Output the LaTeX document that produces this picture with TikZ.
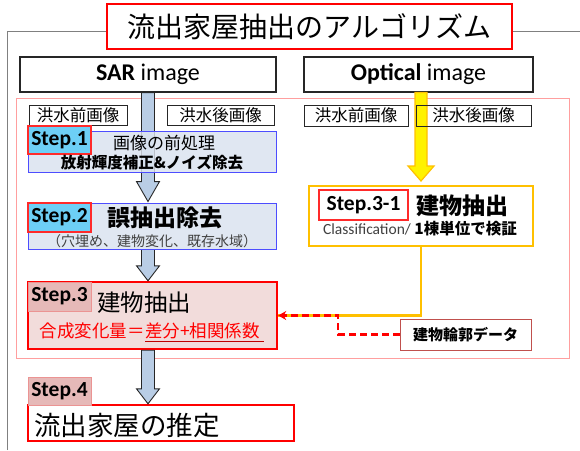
\documentclass[tikz,border=0pt]{standalone}
\usepackage{fontspec}
\setmainfont{Carlito}
\newfontfamily\jp{Noto Sans CJK JP}
\usetikzlibrary{arrows.meta,calc}
\definecolor{pinkframe}{HTML}{FF9F9F}
\definecolor{grayframe}{HTML}{808080}
\definecolor{stepblue}{HTML}{4D4DFF}
\definecolor{stepfill}{HTML}{DFE6F1}
\definecolor{labcyan}{HTML}{6DCFF6}
\definecolor{labred}{HTML}{FF2A2A}
\definecolor{s3fill}{HTML}{F2DCDB}
\definecolor{s3lab}{HTML}{E6B9B8}
\definecolor{orangeb}{HTML}{FFC000}
\definecolor{arrowblue}{HTML}{B9CDE5}
\definecolor{darkred}{HTML}{C0504D}
\definecolor{ulred}{HTML}{C00000}
\definecolor{subgray}{HTML}{404040}
\newcommand\blockarrow[6]{%
  \path[#1] let \p1=(#2), \p2=(#3) in
    (\x1-#4,\y1) -- (\x1+#4,\y1) -- (\x1+#4,\y2+#6) -- (\x1+#5,\y2+#6)
    -- (\x1,\y2) -- (\x1-#5,\y2+#6) -- (\x1-#4,\y2+#6) -- cycle;}
\begin{document}
\begin{tikzpicture}[x=1pt,y=-1pt,
  box/.style={draw, inner sep=0pt},
  blackbox/.style={box, draw=black!85, line width=1.1pt, fill=white},
  floodbox/.style={box, draw=black!85, line width=1pt},
  stepbox/.style={box, draw=stepblue, line width=0.9pt, fill=stepfill, fill opacity=0.8},
  steplab/.style={box, draw=labred, line width=1.1pt, fill=labcyan, font=\fontsize{21.5}{21.5}\selectfont\bfseries},
  redbox/.style={box, draw=red, line width=2.4pt},
  pinklab/.style={box, draw=s3lab!80!red, line width=0.6pt, fill=s3lab, font=\fontsize{21.5}{21.5}\selectfont\bfseries},
  txt/.style={inner sep=0pt},
  sararrow/.style={draw=black!85, line width=0.9pt, fill=arrowblue},
  yelarrow/.style={draw=orangeb, line width=1.2pt, fill=yellow}]
\useasboundingbox (0,0) rectangle (580,450);
% frames
\draw[pinkframe, line width=0.9pt] (16,98) rectangle (569,358);
\node[box, draw=red, line width=1.1pt, fill=white, minimum width=405pt, minimum height=45pt,
  font=\jp\fontsize{28}{28}\selectfont] (title) at (309.5,26.5) {流出家屋抽出のアルゴリズム};
\draw[grayframe, line width=0.9pt] (7,450) -- (7,31) -- (title.west |- 0,31);
\draw[grayframe, line width=0.9pt] (title.east |- 0,31) -- (580,31);
% source boxes
\node[blackbox, minimum width=256pt, minimum height=35pt, font=\fontsize{24}{24}\selectfont] (sar) at (148,74.5) {\textbf{SAR} image};
\node[blackbox, minimum width=229pt, minimum height=35pt, font=\fontsize{24}{24}\selectfont] (opt) at (418.5,74.5) {\textbf{Optical} image};
% step boxes (geometry)
\node[stepbox, minimum width=248pt, minimum height=41pt] (step1) at (152,151.5) {};
\node[stepbox, minimum width=248pt, minimum height=46pt] (step2) at (152,226) {};
\node[box, draw=orangeb, line width=2pt, fill=white, minimum width=224pt, minimum height=60pt] (step31) at (421,216) {};
\node[redbox, fill=s3fill, minimum width=249pt, minimum height=67pt] (step3) at (152.5,315.5) {};
\node[box, draw=darkred, line width=1pt, fill=white, minimum width=131pt, minimum height=31pt,
  font=\jp\bfseries\fontsize{15}{15}\selectfont] (data) at (465.5,334.5) {建物輪郭データ};
\node[redbox, fill=white, minimum width=266pt, minimum height=36pt] (step4) at (161,423) {};
% arrows
\blockarrow{sararrow}{sar.south}{$(sar.south |- step2.north)+(0,-1)$}{6.5pt}{11.5pt}{20pt}
\blockarrow{sararrow}{step2.south -| sar.south}{step3.north -| sar.south}{6.5pt}{11.5pt}{15pt}
\blockarrow{sararrow}{step3.south -| sar.south}{step4.north -| sar.south}{6.5pt}{11.5pt}{15pt}
\blockarrow{yelarrow}{step31.north |- opt.south}{$(step31.north)+(0,-4)$}{6pt}{13pt}{15pt}
% redraw step1/2 boxes over the arrow
\node[stepbox, minimum width=248pt, minimum height=41pt] (step1b) at (step1) {};
\node[stepbox, minimum width=248pt, minimum height=46pt] (step2b) at (step2) {};
% orange and dashed connectors
\coordinate (join) at (338,315.5);
\draw[orangeb, line width=2.8pt] (step31.south) |- (step3.east);
\draw[red, line width=2.6pt, dash pattern=on 7pt off 4pt, -{Stealth[length=8pt,width=9pt]}]
  (data.west) -| (join) -- (step3.east);
% flood image boxes
\node[floodbox, minimum width=98pt, minimum height=20pt, font=\jp\fontsize{16.5}{16.5}\selectfont] (sarpre) at (78,115) {洪水前画像};
\node[floodbox, minimum width=107pt, minimum height=20pt, font=\jp\fontsize{16.5}{16.5}\selectfont] (sarpost) at (220.5,115) {洪水後画像};
\node[floodbox, minimum width=104pt, minimum height=21pt, font=\jp\fontsize{16.5}{16.5}\selectfont] (optpre) at (356,115.5) {洪水前画像};
\node[floodbox, minimum width=115pt, minimum height=21pt, font=\jp\fontsize{16.5}{16.5}\selectfont] (optpost) at (473.5,115.5) {洪水後画像};
% step labels
\node[steplab, minimum width=63pt, minimum height=28pt] (lab1) at (59.5,140) {Step.1};
\node[steplab, minimum width=63pt, minimum height=29pt] (lab2) at (59.5,217.5) {Step.2};
\node[box, draw=labred, line width=1.1pt, minimum width=89pt, minimum height=30pt, font=\fontsize{21.5}{21.5}\selectfont\bfseries] (lab31) at (363.5,205) {Step.3-1};
\node[pinklab, minimum width=63pt, minimum height=29pt] (lab3) at (59.5,296.5) {Step.3};
\node[pinklab, minimum width=63pt, minimum height=28pt] (lab4) at (59.5,391) {Step.4};
% texts
\node[txt, font=\jp\fontsize{17}{17}\selectfont] (t1a) at (164,143) {画像の前処理};
\node[txt, font=\jp\bfseries\fontsize{15.5}{15.5}\selectfont] (t1b) at (152,163) {放射輝度補正\&ノイズ除去};
\node[txt, font=\jp\bfseries\fontsize{23}{23}\selectfont] (t2a) at (165,218) {誤抽出除去};
\node[txt, text=subgray, font=\jp\fontsize{14}{14}\selectfont] (t2b) at (152,241) {（穴埋め、建物変化、既存水域）};
\node[txt, anchor=west, font=\jp\bfseries\fontsize{23}{23}\selectfont] (t31a) at (416,206) {建物抽出};
\node[txt, font=\fontsize{15.5}{15.5}\selectfont] (t31b) at (420,229) {\textcolor{subgray}{Classification/} {\jp\bfseries 1棟単位で検証}};
\node[txt, anchor=west, font=\jp\fontsize{23.5}{23.5}\selectfont] (t3a) at (97,303) {建物抽出};
\node[txt, anchor=east, text=red, font=\jp\fontsize{17.5}{17.5}\selectfont] (f1) at (145,331) {合成変化量＝};
\node[txt, anchor=west, text=red, font=\jp\fontsize{17.5}{17.5}\selectfont] (f2) at (145,331) {差分+相関係数};
\draw[ulred, line width=0.8pt] ($(f2.south west)+(0,2.5)$) -- ($(f2.south east)+(4,2.5)$);
\node[txt, anchor=west, font=\jp\fontsize{26.5}{26.5}\selectfont] (t4) at (34,425) {流出家屋の推定};
\end{tikzpicture}
\end{document}
